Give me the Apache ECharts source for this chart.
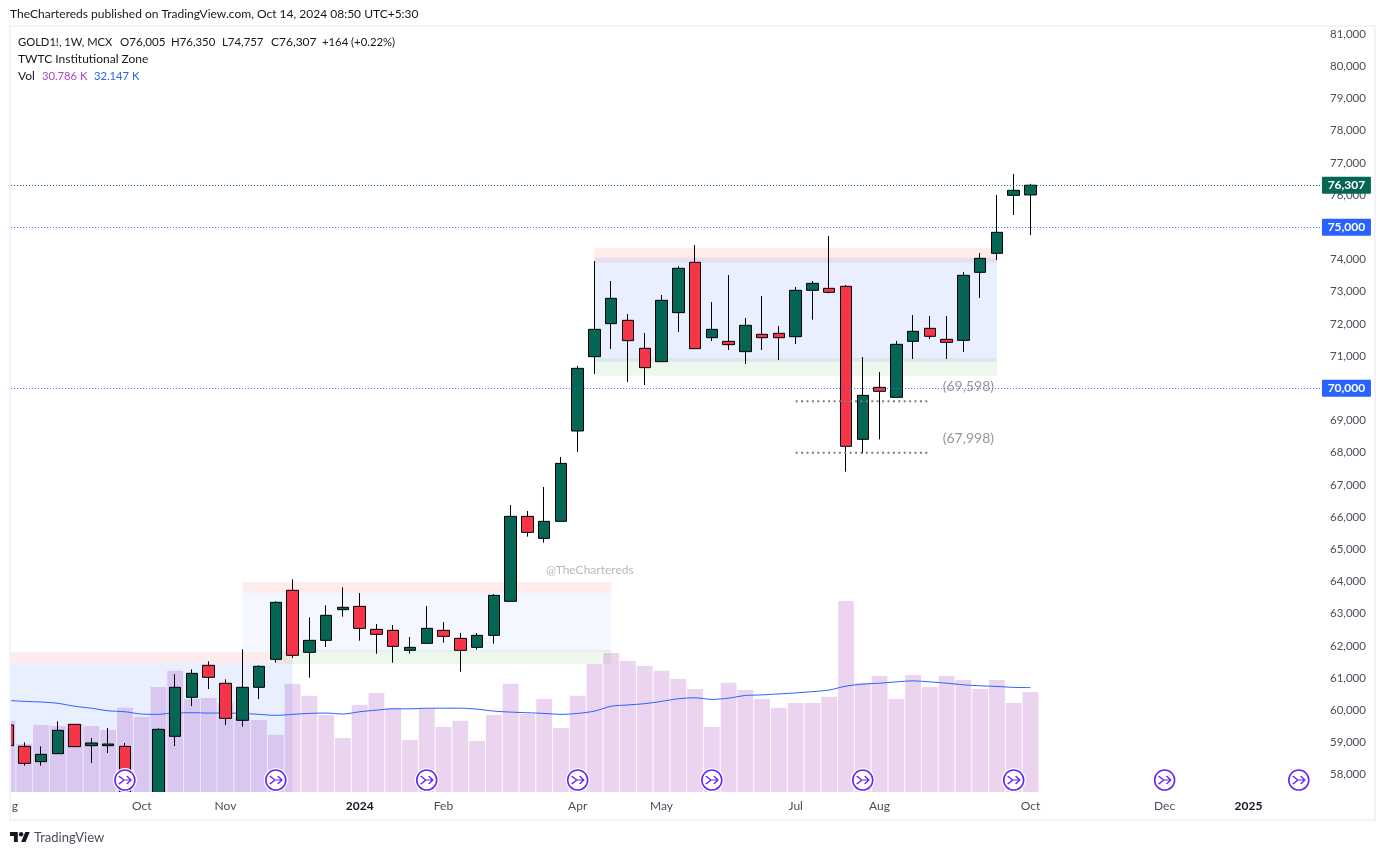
<!DOCTYPE html>
<html><head><meta charset="utf-8">
<style>html,body{margin:0;padding:0;background:#fff}#c{width:1385px;height:855px}</style>
<script src="https://cdn.jsdelivr.net/npm/echarts@6/dist/echarts.min.js"></script>
</head><body><div id="c"></div>
<script>
const timeLabels = ['Aug','','','','','','','','Oct','','','','','Nov','','','','','','','','2024','','','','','Feb','','','','','','','','Apr','','','','','May','','','','','','','','Jul','','','','','Aug','','','','','','','','','Oct','','','','','','','','Dec','','','','','2025','','','',''];
const opens  = [59544,58881,58405,58653,59565,58902,58902,58881,57300,57000,59192,60403,61397,60838,59689,60714,61583,63726,61800,62173,63126,63228,62514,62483,61862,62079,62483,62234,61955,62328,63384,66023,65340,65868,68674,70982,72007,72111,71241,70827,72349,73912,71572,71458,71138,71676,71707,71603,73042,73104,73167,68415,70030,69719,71458,71862,71521,71490,73601,74191,75993,76005];
const closes = [58902,58353,58633,59378,58871,58985,58954,57000,57100,59409,60714,61148,61024,59751,60714,61366,63353,61707,62173,62950,63198,62545,62359,61986,61955,62545,62297,61862,62328,63570,66023,65526,65868,67669,70620,71831,72794,71479,70641,72732,73726,71231,71831,71355,71955,71572,71572,73042,73260,72980,68198,69781,69906,71365,71769,71614,71427,73508,74036,74844,76148,76307];
const lows   = [58800,58281,58281,58653,58871,58364,58674,56900,57000,56900,58892,60134,60662,59544,59492,60351,61480,61625,61014,61966,62908,62162,61758,61479,61758,62079,62100,61200,61883,62069,63384,65392,65206,65868,68021,70444,71220,70195,70102,70827,71748,71231,71469,71189,70754,71189,70879,71376,72131,72949,67411,67980,68415,69719,70910,71531,70910,71127,72804,73984,75382,74757];
const highs  = [59600,59005,58881,59658,59565,59140,59451,58985,57350,59440,61117,61272,61521,60962,61894,61397,63384,64068,62887,63260,63819,63642,62680,62649,62276,63239,62742,62400,62400,63611,66375,66189,66934,67866,70692,73953,73332,72307,71717,72897,73788,74450,72680,73518,72183,72866,71935,73146,73332,74730,73208,70972,70506,71469,72276,72245,72245,73612,74202,76003,76655,76350];
const volumes = [21.9,14.8,20.6,20.3,20.9,20.3,19.1,25.9,23.1,32.3,37.3,28.6,28.9,27.4,23.1,22.2,17.6,33.3,29.6,23.7,16.6,26.8,30.5,25.9,16.0,25.6,20.0,21.9,15.7,23.7,33.3,24.0,28.6,19.7,29.6,39.4,42.8,40.3,38.8,37.3,34.8,31.7,20.0,33.6,31.4,28.6,25.9,27.4,27.4,29.3,58.8,33.6,35.7,28.6,36.0,32.3,35.7,34.5,31.7,34.5,27.4,30.786];
const volumeMA = [28.2,27.9,27.7,27.3,26.4,25.8,25.0,24.7,24.0,23.9,24.4,24.4,24.3,24.3,24.2,23.9,23.6,23.9,24.2,24.3,24.0,24.7,25.2,25.6,25.6,25.8,25.8,25.8,25.5,24.9,24.6,24.4,24.2,23.9,24.2,24.9,26.4,26.8,27.2,27.9,28.7,29.0,28.5,28.9,29.7,29.9,30.2,30.5,30.9,31.4,32.6,33.2,33.5,33.9,34.2,33.9,33.5,33.0,32.7,32.5,32.2,32.147];
const priceTicks = [58000,59000,60000,61000,62000,63000,64000,65000,66000,67000,68000,69000,70000,71000,72000,73000,74000,75000,76000,77000,78000,79000,80000,81000];
const iconBars = [7,16,25,34,42,51,60,69,77];
const iconLevel = 57835;
const priceLines = [76307,75000,70000];
const levelA = 69598, levelB = 67998;
const levelStart = 47, levelEnd = 55;
const zoneColors = {pink:'rgba(242,54,69,0.1)',green:'rgba(76,175,80,0.1)',blue:'rgba(41,98,255,0.1)',blueLight:'rgba(41,98,255,0.05)'};
const zones = [
 [0,17,61811,61469,'pink'],[0,17,61469,57463,'blue'],
 [14,36,63975,63652,'pink'],[14,36,63652,61820,'blueLight'],[16,36,61873,61447,'green'],
 [35,59,74357,73901,'pink'],[35,59,74056,70826,'blue'],[35,59,70941,70391,'green']
];
const FONT = 'Lato';
const fmt = v => Number(v).toLocaleString('en-US');
const chart = echarts.init(document.getElementById('c'), null, {renderer:'canvas'});
const candleData = opens.map((o,i)=>[o,closes[i],lows[i],highs[i]]);
const txt = (x,y,text,fill,size,extra) => ({type:'text',z:100,silent:true,style:Object.assign({x,y,text,fill,font:`${size||12}px ${FONT}`,textVerticalAlign:'middle'},extra||{})});
const logoMap = ps => ps.map(p=>[10+p[0]*0.5556,832+(p[1]-4)*0.5556]);
const gfx = [
 {type:'rect',z:50,silent:true,shape:{x:10,y:792,width:1312,height:27},style:{fill:'#fff'}},
 {type:'rect',z:99,silent:true,shape:{x:0,y:0,width:10,height:855},style:{fill:'#fff'}},
 {type:'rect',z:100,silent:true,shape:{x:10,y:26,width:1365,height:794},style:{fill:'none',stroke:'#f0f3fa',lineWidth:2}},
 txt(10,14.5,'TheChartereds published on TradingView.com, Oct 14, 2024 08:50 UTC+5:30','#131722',12),
 txt(18,42,'GOLD1!, 1W, MCX','#131722',11.2),
 txt(120,42,'O76,005','#131722',11.6),txt(171,42,'H76,350','#131722',11.4),txt(222,42,'L74,757','#131722',11.4),txt(271,42,'C76,307','#131722',12),txt(322,42,'+164 (+0.22%)','#131722',11.3),
 txt(18,59,'TWTC Institutional Zone','#131722',12),
 txt(18,76,'Vol','#131722',12),txt(42,76,'30.786 K','#ab47bc',11.2),txt(94,76,'32.147 K','#2962ff',11.2),
 txt(546,570,'@TheChartereds','rgba(120,123,134,0.55)',12),
 {type:'polygon',z:100,silent:true,shape:{points:logoMap([[14,22],[7,22],[7,11],[0,11],[0,4],[14,4]])},style:{fill:'#131722'}},
 {type:'polygon',z:100,silent:true,shape:{points:logoMap([[28,22],[20,22],[27.5,4],[35.5,4]])},style:{fill:'#131722'}},
 {type:'circle',z:100,silent:true,shape:{cx:10+20*0.5556,cy:832+4*0.5556,r:4*0.5556},style:{fill:'#131722'}},
 txt(34,838,'TradingView','#4a4e5a',13)
];
chart.setOption({
 animation:false,
 backgroundColor:'#fff',
 textStyle:{fontFamily:FONT},
 graphic:gfx,
 grid:{left:-0.885,right:61.055,top:27,bottom:63,containLabel:false,outerBoundsMode:'none'},
 xAxis:{type:'category',z:60,data:timeLabels,boundaryGap:true,axisLine:{show:false},axisTick:{show:false},splitLine:{show:false},
  axisLabel:{interval:0,margin:8,hideOverlap:false,fontFamily:FONT,fontSize:12,color:'#4a4e5a',
   formatter:v=>/^\d{4}$/.test(v)?`{b|${v}}`:v,rich:{b:{fontWeight:'bold',fontFamily:FONT,fontSize:12,color:'#131722'}}}},
 yAxis:[
  {type:'value',position:'right',min:57463,max:81220,axisLine:{show:false},axisTick:{show:false},splitLine:{show:false},
   axisLabel:{customValues:priceTicks,align:'right',margin:42,fontFamily:FONT,fontSize:11.5,color:'#4a4e5a',padding:[0,0,5,0],formatter:fmt}},
  {type:'value',min:0,max:235.5,show:false,splitLine:{show:false}}
 ],
 series:[
  {name:'zones',type:'line',z:1,silent:true,data:[],markArea:{silent:true,data:zones.map(z=>[{xAxis:z[0],yAxis:z[2],itemStyle:{color:zoneColors[z[4]]}},{xAxis:z[1],yAxis:z[3]}])}},
  {name:'Vol',type:'bar',yAxisIndex:1,z:2,silent:true,barWidth:15.8,data:volumes,itemStyle:{color:'rgba(156,39,176,0.2)'}},
  {name:'Vol MA',type:'line',yAxisIndex:1,z:3,silent:true,data:volumeMA,showSymbol:false,smooth:0.3,lineStyle:{color:'#2962ff',width:1}},
  {name:'GOLD1!',type:'candlestick',z:4,silent:true,barWidth:12,data:candleData,clip:true,
   itemStyle:{color:'#056656',color0:'#f63548',borderColor:'#000',borderColor0:'#000',borderColorDoji:'#000',borderWidth:1}},
  {name:'levelA',type:'line',z:5,silent:true,showSymbol:false,data:[[levelStart,levelA],[levelEnd,levelA]],lineStyle:{color:'#787b86',width:2,type:[2,3.4]}},
  {name:'levelB',type:'line',z:5,silent:true,showSymbol:false,data:[[levelStart,levelB],[levelEnd,levelB]],lineStyle:{color:'#787b86',width:2,type:[2,3.4]}},
  {name:'levelLabels',type:'scatter',z:6,silent:true,symbolSize:0,data:[[57,levelA+473,`(${fmt(levelA)})`],[57,levelB+458,`(${fmt(levelB)})`]],
   label:{show:true,position:'inside',offset:[5,0],fontFamily:FONT,fontSize:14,color:'#787b86',formatter:p=>p.data[2]}},
  {name:'priceLines',type:'line',z:10,silent:true,data:[],
   markLine:{silent:true,symbol:'none',animation:false,
    data:priceLines.map((v,i)=>{const c=i===0?'#056656':'#2962ff';return {yAxis:v,lineStyle:{color:c,type:[1,2],width:1},
      label:{show:true,position:'end',distance:22.5,formatter:fmt(v),color:'#fff',backgroundColor:c,fontFamily:FONT,fontSize:12,fontWeight:'bold',width:49,height:17,lineHeight:17,align:'center',borderRadius:1,padding:0}}})}},
  {name:'iconHalo',type:'scatter',z:7,silent:true,symbol:'circle',symbolSize:24,data:iconBars.map(i=>[i,iconLevel]),itemStyle:{color:'#fff',opacity:1}},
  {name:'iconRing',type:'scatter',z:8,silent:true,symbol:'circle',symbolSize:20,data:iconBars.map(i=>[i,iconLevel]),itemStyle:{color:'#fff',borderColor:'#6626f6',borderWidth:1.6,opacity:1}},
  {name:'iconGlyph',type:'scatter',z:9,silent:true,symbol:'path://M0,0 L5,4 L12,4 M0,8 L5,4 M8,0 L12,4 L8,8',symbolSize:[12,8],data:iconBars.map(i=>[i,iconLevel]),itemStyle:{color:'none',borderColor:'#6626f6',borderWidth:1.4,opacity:1}}
 ]
});
</script></body></html>
